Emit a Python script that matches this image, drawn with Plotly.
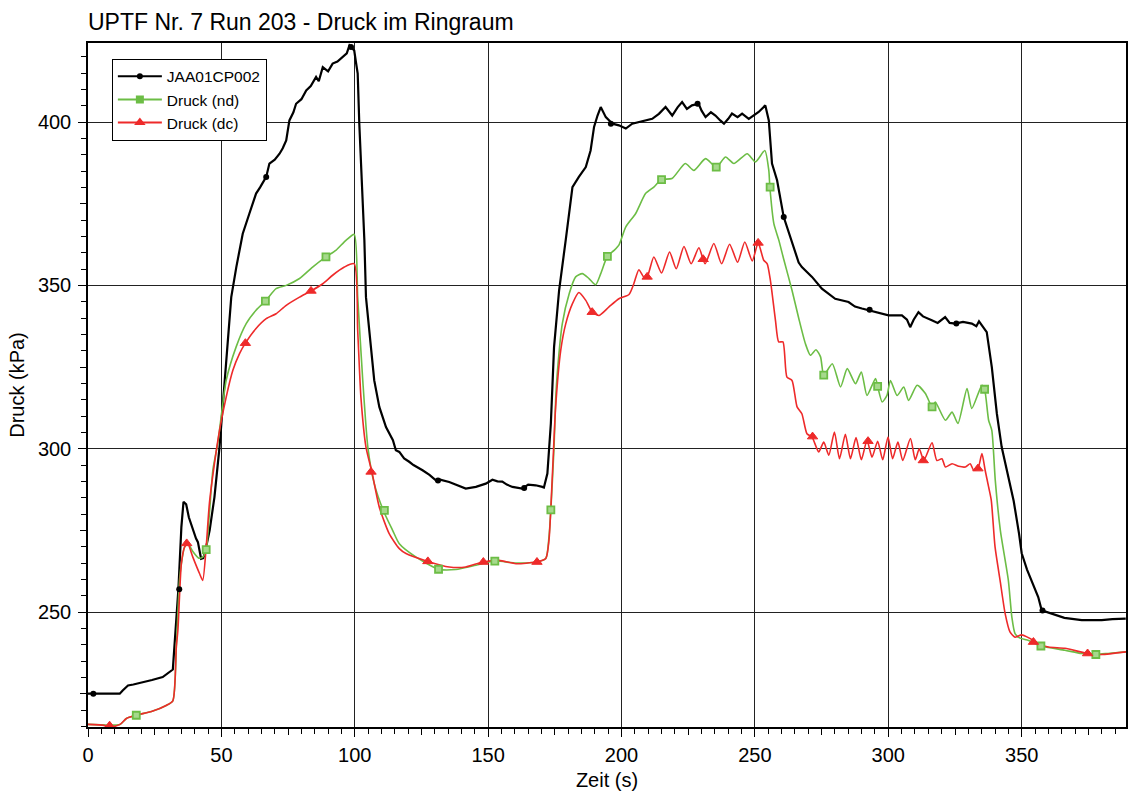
import plotly.graph_objects as go

# ---------------- data ----------------
black_x = [0, 11.9, 13, 15, 17, 20, 24, 28, 31.8, 33.9, 35, 35.8, 36.8, 37.8, 39.3, 40.5, 41.2, 42.4, 43.2, 43.8,
           45.6, 47.4, 49.3, 51.8, 53.7, 55.6, 57.4, 58.0, 60.5, 63.0, 64.5, 66.8, 68.0, 70, 71.8, 73, 74.3, 75.5,
           77, 78.0, 80, 81.8, 83.5, 85.5, 86.5, 88.0, 90, 91.7, 93.5, 95.5, 97, 98.0, 99, 99.8, 100.5, 101.1,
           101.7, 103.6, 104.2, 106.7, 107.3, 109.2, 110.4, 111.7, 114.3, 115.4, 116.7, 118.5, 120.4, 122, 125.4,
           128, 130.4, 132, 135.4, 138, 141.6, 145.4, 149.1, 151.6, 153.5, 155.3, 157, 159.1, 162.8, 165, 167.8,
           170.3, 170.9, 172.2, 173.5, 174.7, 176.6, 179.1, 181.6, 184.0, 186.6, 188.4, 189.7, 191, 192.2, 194.1,
           196.6, 199, 201.6, 204, 206.5, 209, 211.5, 214, 216.5, 219, 221, 222.7, 224.5, 226.4, 228.9, 230,
           231.5, 233.5, 235.2, 237, 238.4, 240, 241.4, 243.5, 245.2, 247.7, 249.5, 251.4, 253.9, 255.2, 256.4,
           258.3, 260.8, 263.9, 266.4, 267.6, 271.4, 275.1, 280.1, 285.1, 287.5, 290.1, 295.1, 300.1, 305.1, 307,
           308.2, 309.5, 311.3, 313, 316.3, 318.5, 321.3, 323, 325.1, 328, 331.3, 333, 334, 335.0, 336.9, 338.8,
           340.7, 342.5, 345.0, 347, 349, 350, 352, 353.7, 356.2, 357.5, 360, 362.5, 366, 372.5, 380, 384, 389]
black_y = [225, 225, 226, 227.5, 227.8, 228.3, 229.2, 230.1, 232.4, 257.2, 276, 283.7, 283, 279, 275, 272.5, 271.4,
           266.3, 266.5, 268, 275, 285.2, 300.5, 326, 346.4, 355.6, 362.8, 365.8, 372, 378.1, 380, 383.2, 387.3,
           388.5, 390.3, 392, 394.4, 400.5, 403, 405.6, 407, 409.7, 411, 413.8, 412.5, 416.8, 415.5, 417.9, 418.5,
           419.9, 421, 423.5, 422.5, 421.9, 418, 414.8, 399.5, 363.8, 346.4, 326, 320.9, 312.8, 309.7, 306.6,
           302.6, 299.5, 299, 297, 296, 295, 293.4, 292, 290.3, 290.5, 289.8, 289, 287.8, 288.3, 289.3, 290.5,
           290, 289.9, 289, 288.3, 287.8, 289, 288.8, 288.3, 288.1, 292.4, 307.7, 331.1, 348.5, 364, 380.1, 383.2,
           386.2, 391.3, 398.5, 402, 404.6, 401.5, 399.5, 399, 398, 399.5, 400, 400.5, 401, 402.5, 404.6, 402,
           404.5, 406.1, 404, 405.1, 405.6, 403.5, 401.5, 403, 402, 400.5, 399.5, 401, 402.6, 401.5, 402.6, 401,
           402, 403.1, 405.1, 400.5, 387.3, 382.2, 370.9, 362.8, 357, 355.6, 352.6, 349, 345.9, 344.9, 343.5,
           342.9, 341.8, 340.8, 340.8, 339.5, 337.2, 339.5, 341.8, 340.5, 339.3, 338.5, 340.3, 338.5, 338.3,
           338.8, 338.3, 337.5, 339, 337.8, 335.7, 325, 310.7, 300.5, 291.3, 284, 274, 268, 263, 259.7, 254.6,
           250.5, 249.8, 249, 248.2, 247.5, 247.5, 247.8, 248]

nd_x = [0, 12, 14.4, 18.1, 24.3, 29.3, 31.8, 33.1, 34.3, 35.0, 36.2, 37.4, 39.3, 41.5, 43, 44.3, 45.5, 46.8, 48.7,
        51.8, 55.5, 59.3, 63, 66.5, 70.5, 74.3, 79.3, 84.2, 89.2, 92.9, 96.7, 99.8, 101.1, 103, 104.9, 107.3,
        110.7, 114.2, 116.7, 123, 131.4, 137.9, 145.4, 152.5, 160.4, 167.9, 171.6, 172.8, 173.5, 174.7, 175.3,
        175.9, 177.8, 180.4, 182.8, 185.3, 187.8, 190.3, 192.2, 194.7, 197.2, 199.0, 201.6, 205.3, 209.0, 212.1,
        215.0, 218.9, 223.9, 227.1, 231.5, 235.5, 239, 242.1, 247.1, 250.2, 253.7, 255.2, 255.6, 257.1, 258.9,
        260.8, 263.9, 266.4, 268.9, 270.8, 272.9, 274.6, 275.8, 279.0, 282.1, 284.6, 287.7, 289.9, 292.0, 295.2,
        296.0, 297.7, 299.5, 300.8, 303.3, 305.8, 307.6, 310.8, 313.9, 316.4, 317.6, 321.4, 323.9, 326.1, 329.5,
        331.3, 335.1, 336.1, 337.6, 338.8, 340.1, 342, 345.0, 346.3, 347.5, 349.4, 352.6, 357.2, 366.2, 372.5,
        377.8, 383, 389.1]
nd_y = [215.6, 215.6, 217.4, 218.4, 219.7, 221.4, 222.8, 239.3, 259.7, 264.8, 269.9, 271, 268.5, 266.5, 266.8,
        269.1, 280, 293.4, 302, 320.9, 331.1, 338.3, 342.4, 345.2, 349, 350, 352.1, 355.6, 358.7, 360.7, 363.8,
        365.6, 346.4, 320.9, 300.5, 289.3, 281.1, 275, 270.9, 266.8, 263.1, 263.0, 264.3, 265.6, 265, 265.3,
        266.4, 273, 281.3, 300.5, 315, 323, 338.3, 347.5, 352.6, 353.6, 352.1, 350.2, 353.6, 358.9, 360.7, 362.3,
        367.9, 372, 378.1, 380.1, 382.4, 382.7, 387.3, 385.2, 388.8, 386.2, 389.3, 387.3, 390.3, 387.8, 391.3,
        385.2, 380.1, 368.9, 364, 358, 348.5, 340, 332.2, 328.6, 330.3, 328.1, 322.5, 326.0, 318.9, 324.5,
        319.9, 323.5, 316.3, 321.5, 319.1, 314.3, 316.3, 320.9, 316.3, 318.9, 314.8, 319.4, 316.9, 312.8, 314.3,
        308.7, 311.2, 307.7, 318.4, 312.3, 319.4, 318.2, 308.7, 305.6, 290.3, 275, 259.7, 248.5, 243.4, 242,
        241.3, 239.6, 238.3, 237.3, 237, 237.4, 237.8]

dc_x = [0, 6, 7.5, 8.2, 9, 12, 14.4, 18.1, 24.3, 29.3, 31.8, 33.1, 33.7, 35.0, 36.2, 37.4, 39.3, 41.8, 43.0, 44.3,
        45.5, 47.4, 49.3, 51.8, 54.3, 56.8, 59.0, 63.0, 66.8, 70.5, 74.3, 79.3, 83.6, 88.0, 91.7, 96.1, 99.8,
        101.1, 102.3, 104.2, 106.5, 109.2, 112.9, 116.7, 119.2, 127.4, 135.4, 141.6, 147.9, 154.1, 160.4, 167.9,
        171.6, 172.8, 174.1, 175.3, 177.2, 179.1, 181.6, 184.0, 186.6, 189.0, 191.6, 195.3, 199.0, 202.8, 204.6,
        206.5, 208.4, 209.6, 212.1, 215.0, 218.0, 220.5, 223.4, 226.1, 229.0, 231.3, 234.6, 237.5, 240.5, 243.5,
        246.2, 249.0, 251.2, 253.3, 254.6, 255.8, 257.7, 258.9, 260.5, 262.0, 263.9, 265.8, 267.6, 269.5, 271.4,
        273.9, 275.8, 277.7, 279.8, 281.7, 283.9, 285.8, 287.9, 289.9, 292.0, 293.9, 296.0, 297.9, 299.9, 301.6,
        303.6, 305.4, 308.3, 310.1, 311.6, 313.3, 316.4, 318.2, 320.1, 321.4, 323.9, 326.4, 328.9, 330.7, 332.0,
        333.6, 335.1, 336.3, 337.6, 338.6, 340, 341.9, 343.8, 345.6, 347.5, 350, 353.7, 354.4, 360, 366.2, 374.7,
        380, 389.1]
dc_y = [215.6, 215.3, 214.8, 215.8, 214.9, 215.6, 217.4, 218.4, 219.7, 221.4, 222.8, 239.3, 244.4, 264.8, 269.9,
        270.9, 266.8, 261.8, 259.7, 269.9, 283.2, 295.4, 305.6, 315.8, 324, 329.1, 332.3, 336.8, 339.8, 341.3,
        343.9, 346.4, 348.3, 350.5, 353.1, 355.6, 356.6, 336.2, 315.8, 300.5, 292.6, 282.1, 274, 269.4, 267.9,
        265.5, 263.8, 263.8, 265.3, 265.8, 264.8, 265.3, 266.4, 272, 292.4, 312.8, 330.1, 338.3, 344.4, 347.8,
        345.4, 341.8, 340.8, 343.4, 345.9, 347.2, 350.5, 354.8, 352.5, 352.6, 358.7, 353.8, 360.2, 355.1, 361.9,
        356.6, 361.5, 356.6, 362.8, 356.6, 362.6, 357.1, 363.3, 357.5, 363, 357.7, 356.6, 351.5, 339.3, 332.7,
        332.7, 321.9, 320.9, 312.8, 310.7, 304.6, 303.6, 299.0, 302.0, 298.0, 305.1, 296.9, 304.4, 296.9, 303.4,
        296.6, 302.6, 297.4, 302.3, 296.6, 303.6, 296.9, 302.0, 296.4, 303.1, 296.6, 300.0, 296.4, 301.8, 296.4,
        296.9, 294.4, 295.4, 294.6, 294.4, 295.4, 293.4, 293.9, 298.5, 293.4, 288.3, 284.2, 270, 259.7, 249.5,
        243.9, 242.3, 243, 241.6, 240.8, 239.3, 238.9, 237.3, 237, 237.8]

# marker positions
black_mx = [2, 34.2, 66.8, 98.6, 131.2, 163.5, 196, 228.5, 260.8, 293, 325.5, 357.8]
black_my = [225, 257, 383.2, 423, 290.3, 288, 399.5, 405.6, 370.9, 342.5, 338.3, 250.5]
nd_mx = [18.1, 44.3, 66.5, 89.2, 111.1, 131.4, 152.5, 173.5, 194.7, 215.0, 235.5, 255.7, 275.8, 296.0, 316.4,
         336.1, 357.2, 377.8]
nd_my = [218.4, 269.1, 345.2, 358.7, 281.1, 263.1, 265.6, 281.3, 358.9, 382.4, 386.2, 380.1, 322.5, 319.1,
         312.8, 318.2, 239.6, 237.0]
dc_mx = [8.1, 37.0, 59.0, 83.6, 106.1, 127.4, 148.2, 168.3, 189.0, 209.6, 230.6, 251.2, 271.6, 292.4, 313.1,
         333.6, 354.4, 374.7]
dc_my = [215.2, 271, 332.3, 348.3, 292.9, 265.5, 265.3, 265.3, 341.8, 352.6, 358, 363, 303.7, 302.3, 296.4,
         293.9, 240.8, 237.3]

names = ["JAA01CP002", "Druck (nd)", "Druck (dc)"]
title_text = "UPTF Nr. 7 Run 203 - Druck im Ringraum"
x_title = "Zeit (s)"
y_title = "Druck (kPa)"

BLACK = "#000000"
GREEN = "#6cbd45"
RED = "#ee2a2a"

fig = go.Figure()

# lines
fig.add_trace(go.Scatter(x=black_x, y=black_y, mode="lines", line=dict(color=BLACK, width=2.2),
                         showlegend=False, hoverinfo="skip"))
fig.add_trace(go.Scatter(x=nd_x, y=nd_y, mode="lines", line=dict(color=GREEN, width=1.6, shape="spline", smoothing=0.6),
                         showlegend=False, hoverinfo="skip"))
fig.add_trace(go.Scatter(x=dc_x, y=dc_y, mode="lines", line=dict(color=RED, width=1.6, shape="spline", smoothing=0.6),
                         showlegend=False, hoverinfo="skip"))
# markers
fig.add_trace(go.Scatter(x=black_mx, y=black_my, mode="markers",
                         marker=dict(symbol="circle", size=6, color=BLACK), showlegend=False, hoverinfo="skip"))
fig.add_trace(go.Scatter(x=nd_mx, y=nd_my, mode="markers",
                         marker=dict(symbol="square", size=7, color="#a6d98c", line=dict(color=GREEN, width=1.8)),
                         showlegend=False, hoverinfo="skip"))
fig.add_trace(go.Scatter(x=dc_mx, y=dc_my, mode="markers",
                         marker=dict(symbol="triangle-up", size=9, color=RED, line=dict(color=RED, width=1)),
                         showlegend=False, hoverinfo="skip"))
# legend entries
fig.add_trace(go.Scatter(x=[None], y=[None], mode="lines+markers", name=names[0],
                         line=dict(color=BLACK, width=2), marker=dict(symbol="circle", size=6, color=BLACK)))
fig.add_trace(go.Scatter(x=[None], y=[None], mode="lines+markers", name=names[1],
                         line=dict(color=GREEN, width=2), marker=dict(symbol="square", size=8, color=GREEN)))
fig.add_trace(go.Scatter(x=[None], y=[None], mode="lines+markers", name=names[2],
                         line=dict(color=RED, width=2), marker=dict(symbol="triangle-up", size=10, color=RED)))

XR = [0, 389.1]
YR = [214.8, 424.2]
FONT = "Arial, Liberation Sans, sans-serif"

fig.update_layout(
    width=1136, height=801,
    margin=dict(l=88, r=8, t=43, b=74),
    paper_bgcolor="white", plot_bgcolor="white",
    font=dict(family=FONT, color="black", size=20),
    title=dict(text=title_text, x=88 / 1136, xanchor="left", xref="container",
               y=1 - 22 / 801, yanchor="middle", font=dict(size=23, family=FONT, color="black")),
    legend=dict(x=0.023, y=0.977, xanchor="left", yanchor="top", bgcolor="white",
                bordercolor="black", borderwidth=1, font=dict(size=15.5, family=FONT),
                tracegroupgap=0, itemwidth=44),
    showlegend=True,
    xaxis=dict(range=XR, dtick=50, tick0=0, showgrid=True, gridcolor="#222", gridwidth=1,
               showline=True, linecolor="black", linewidth=1.5, mirror=True,
               ticks="outside", ticklen=8, tickcolor="black", tickwidth=1,
               minor=dict(dtick=5, ticks="outside", ticklen=5, tickcolor="black", showgrid=False),
               zeroline=False, title=dict(text=x_title, standoff=8, font=dict(size=20)),
               ticklabelstandoff=1),
    yaxis=dict(range=YR, dtick=50, tick0=0, showgrid=True, gridcolor="#222", gridwidth=1,
               showline=True, linecolor="black", linewidth=1.5, mirror=True,
               ticks="outside", ticklen=8, tickcolor="black", tickwidth=1,
               minor=dict(dtick=5, ticks="outside", ticklen=5, tickcolor="black", showgrid=False),
               zeroline=False, title=dict(text=y_title, standoff=8, font=dict(size=20)),
               ticklabelstandoff=3),
    xaxis2=dict(range=XR, overlaying="x", side="bottom", dtick=25, tick0=0, ticks="outside", ticklen=7,
                tickcolor="black", showticklabels=False, showgrid=False, showline=False, zeroline=False),
    yaxis2=dict(range=YR, overlaying="y", side="left", dtick=25, tick0=0, ticks="outside", ticklen=7,
                tickcolor="black", showticklabels=False, showgrid=False, showline=False, zeroline=False),
)
fig.add_trace(go.Scatter(x=[None], y=[None], xaxis="x2", yaxis="y2", showlegend=False, hoverinfo="skip"))

fig.write_html("out.html")
